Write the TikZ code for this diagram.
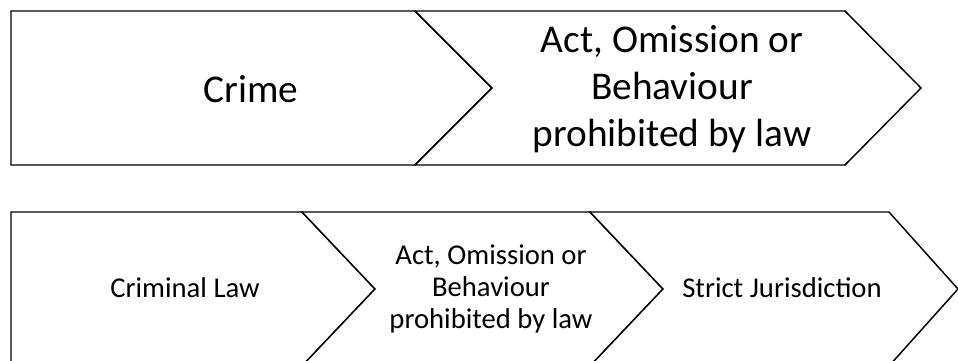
\documentclass[tikz,border=0pt]{standalone}
\usepackage{fontspec}
\setmainfont{Carlito}

\tikzset{
	chev/.style={draw=black, line width=1.1pt, line join=miter, fill=white},
	bigtxt/.style={font=\fontsize{29.5}{35}\selectfont, align=center},
	smalltxt/.style={font=\fontsize{21.5}{24}\selectfont, align=center},
}

\begin{document}
\begin{tikzpicture}[x=0.75pt,y=-0.75pt]
	\clip (0,0) rectangle (958,361);
	
	% top row
	\draw[chev] (11,11) -- (415,11) -- (492,88) -- (415,165) -- (11,165) -- cycle;
	\draw[chev] (415,11) -- (845,11) -- (921,88) -- (845,165) -- (415,165) -- (492,88) -- cycle;
	\node[bigtxt] (crime) at (251,89) {Crime};
	\node[bigtxt] (crimedef) at (672,89) {Act, Omission or\\Behaviour\\prohibited by law};
	
	% bottom row
	\draw[chev] (11,212) -- (302,212) -- (375,289) -- (302,366) -- (11,366) -- cycle;
	\draw[chev] (302,212) -- (590,212) -- (663,289) -- (590,366) -- (302,366) -- (375,289) -- cycle;
	\draw[chev] (590,212) -- (889,212) -- (958,289) -- (889,366) -- (590,366) -- (663,289) -- cycle;
	\node[smalltxt] (crimlaw) at (185,288) {Criminal Law};
	\node[smalltxt] (lawdef) at (491,289) {Act, Omission or\\Behaviour\\prohibited by law};
	\node[smalltxt] (strict) at (782,288) {Strict Jurisdiction};
\end{tikzpicture}
\end{document}
